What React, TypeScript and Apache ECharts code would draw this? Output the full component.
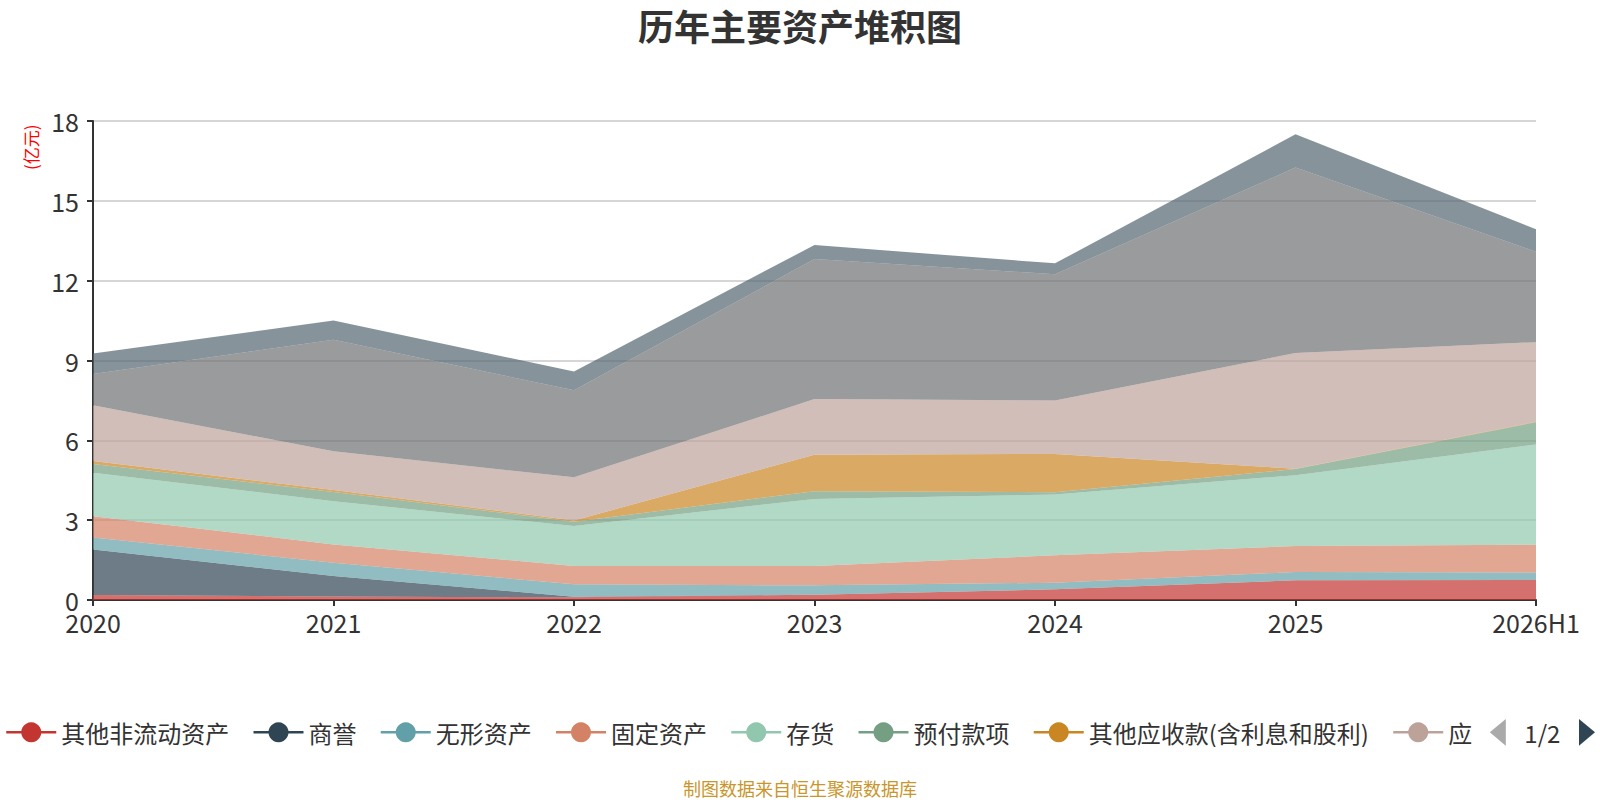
import React, { useEffect, useRef } from "react";
import * as echarts from "echarts";

const categories = ["2020", "2021", "2022", "2023", "2024", "2025", "2026H1"];

const otherNonCurrent = [0.19, 0.13, 0.1, 0.2, 0.4, 0.74, 0.75];
const goodwill = [1.71, 0.77, 0.02, 0, 0, 0, 0];
const intangible = [0.45, 0.5, 0.47, 0.35, 0.25, 0.31, 0.28];
const fixedAssets = [0.8, 0.69, 0.69, 0.73, 1.03, 0.98, 1.05];
const inventory = [1.63, 1.62, 1.5, 2.52, 2.28, 2.66, 3.76];
const prepayments = [0.33, 0.35, 0.16, 0.29, 0.09, 0.23, 0.84];
const otherReceivables = [0.11, 0.07, 0.05, 1.37, 1.44, 0.01, 0.02];
const accountsReceivable = [2.1, 1.46, 1.62, 2.09, 2.01, 4.35, 2.99];
const tradingAssets = [1.17, 4.19, 3.27, 5.26, 4.74, 6.97, 3.4];
const cash = [0.77, 0.72, 0.71, 0.53, 0.41, 1.25, 0.84];

const seriesNames = [
  "其他非流动资产",
  "商誉",
  "无形资产",
  "固定资产",
  "存货",
  "预付款项",
  "其他应收款(含利息和股利)",
  "应收账款",
  "交易性金融资产",
  "货币资金",
];
const seriesValues = [
  otherNonCurrent,
  goodwill,
  intangible,
  fixedAssets,
  inventory,
  prepayments,
  otherReceivables,
  accountsReceivable,
  tradingAssets,
  cash,
];

const palette = [
  "#c23531",
  "#2f4554",
  "#61a0a8",
  "#d48265",
  "#91c7ae",
  "#749f83",
  "#ca8622",
  "#bda29a",
  "#6e7074",
  "#546570",
  "#c4ccd3",
];

const yTicks = [0, 3, 6, 9, 12, 15, 18];

const FONT = '"Noto Sans CJK SC", "Noto Sans", sans-serif';

export default function App() {
  const ref = useRef<HTMLDivElement>(null);
  useEffect(() => {
    if (!ref.current) return;
    const chart = echarts.init(ref.current, undefined, { renderer: "svg" });
    chart.setOption({
      animation: false,
      color: palette,
      textStyle: { fontFamily: FONT },
      title: {
        text: "历年主要资产堆积图",
        left: "center",
        top: 2,
        textStyle: { fontSize: 36, fontWeight: "bold", color: "#333", fontFamily: FONT },
      },
      grid: { left: 93, right: 64, top: 121, bottom: 200, containLabel: false },
      legend: {
        type: "scroll",
        left: 0,
        right: 2,
        top: 714,
        data: seriesNames,
        itemWidth: 50,
        itemHeight: 25,
        itemGap: 23,
        lineStyle: { width: 2.5 },
        textStyle: { fontSize: 24, color: "#333", fontFamily: FONT },
        pageIconColor: "#2f4554",
        pageIconInactiveColor: "#aaa",
        pageIconSize: [16, 30],
        pageTextStyle: { fontSize: 24, color: "#333", fontFamily: FONT },
        pageButtonItemGap: 8,
        pageButtonGap: 18,
      },
      graphic: [
        {
          type: "text",
          x: 22,
          y: 170,
          rotation: Math.PI / 2,
          style: {
            text: "(亿元)",
            fill: "#ff0000",
            fontSize: 17,
            fontFamily: FONT,
            textAlign: "left",
            textVerticalAlign: "top",
          },
        },
        {
          type: "text",
          x: 800,
          y: 788,
          style: {
            text: "制图数据来自恒生聚源数据库",
            fill: "#c9962b",
            fontSize: 18,
            fontFamily: FONT,
            textAlign: "center",
            textVerticalAlign: "middle",
          },
        },
      ],
      xAxis: {
        type: "category",
        boundaryGap: false,
        data: categories,
        axisLine: { lineStyle: { color: "#333", width: 2 } },
        axisTick: { show: true, alignWithLabel: true, lineStyle: { color: "#333", width: 2 }, length: 6 },
        axisLabel: { fontSize: 25, color: "#333", margin: 9, fontFamily: FONT },
      },
      yAxis: {
        type: "value",
        min: yTicks[0],
        max: yTicks[yTicks.length - 1],
        interval: 3,
        axisLine: { show: true, lineStyle: { color: "#333", width: 2 } },
        axisTick: { show: true, lineStyle: { color: "#333", width: 2 }, length: 6 },
        axisLabel: { fontSize: 25, color: "#333", margin: 14, fontFamily: FONT },
        splitLine: { show: true, lineStyle: { color: "#c8c8c8", width: 1.5 } },
      },
      series: seriesNames.map((name, i) => ({
        name,
        type: "line",
        stack: "total",
        data: seriesValues[i],
        symbol: "circle",
        symbolSize: 8,
        showSymbol: false,
        lineStyle: { width: 0 },
        areaStyle: { opacity: 0.7 },
        emphasis: { disabled: true },
      })),
    });
    return () => chart.dispose();
  }, []);
  return (
    <div
      ref={ref}
      style={{ position: "absolute", left: 0, top: 0, width: 1600, height: 800, background: "#fff" }}
    />
  );
}
